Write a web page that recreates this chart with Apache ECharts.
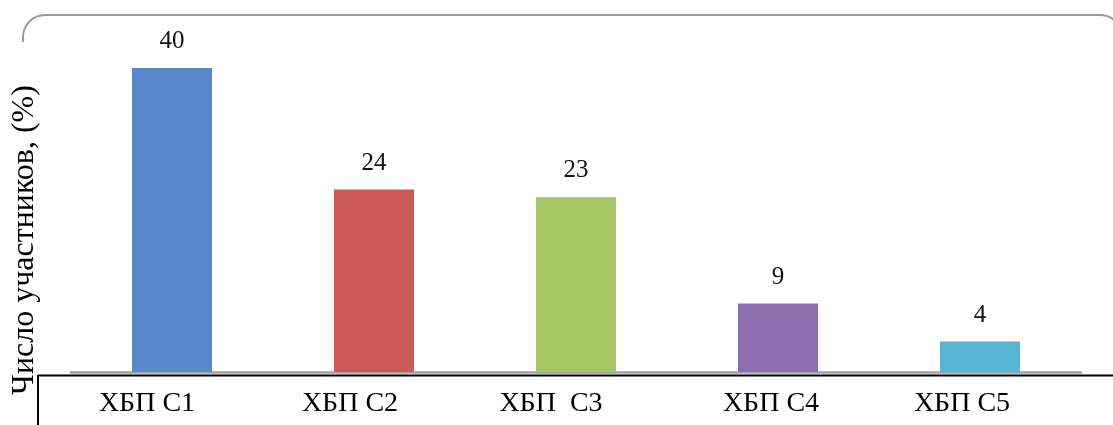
<!DOCTYPE html>
<html>
<head>
<meta charset="utf-8">
<script src="https://cdn.jsdelivr.net/npm/echarts@6/dist/echarts.min.js"></script>
<style>
  html, body { margin: 0; padding: 0; background: #fff; }
  #chart { width: 1113px; height: 425px; }
</style>
</head>
<body>
<div id="chart"></div>
<script>
// data
var categories = ['ХБП С1', 'ХБП С2', 'ХБП  С3', 'ХБП С4', 'ХБП С5'];
var values = [40, 24, 23, 9, 4];
var yName = 'Число участников, (%)';

var barColors = ['#5A8ACB', '#CB5A56', '#A6C663', '#8C6DAE', '#56B5D2'];
// labels in the original sit a little left of the bars
var labelShift = [50, 48, 50, 14, 36];

var chart = echarts.init(document.getElementById('chart'));

var rich = {};
labelShift.forEach(function (s, i) {
    rich['c' + i] = {
        fontFamily: 'Liberation Serif',
        fontSize: 28,
        color: '#000',
        padding: [0, s, 0, 0]
    };
});

chart.setOption({
    animation: false,
    textStyle: {
        fontFamily: 'Liberation Serif'
    },
    grid: {
        left: 71,
        right: 32,
        top: 68,
        bottom: 53,
        outerBoundsMode: 'none'
    },
    xAxis: {
        type: 'category',
        data: categories,
        axisLine: {
            lineStyle: {
                color: '#A3A3A3',
                width: 2.5
            }
        },
        axisTick: { show: false },
        axisLabel: {
            interval: 0,
            margin: 18,
            formatter: function (v, i) {
                return '{c' + i + '|' + v + '}';
            },
            rich: rich
        }
    },
    yAxis: {
        type: 'value',
        min: 0,
        max: 40,
        name: yName,
        nameLocation: 'middle',
        nameRotate: 90,
        nameGap: 30,
        nameTextStyle: {
            fontFamily: 'Liberation Serif',
            fontSize: 32,
            color: '#000',
            padding: [0, 40, 0, 0]
        },
        axisLine: { show: false },
        axisTick: { show: false },
        axisLabel: { show: false },
        splitLine: { show: false }
    },
    series: [
        {
            type: 'bar',
            barWidth: 80,
            data: values.map(function (v, i) {
                return { value: v, itemStyle: { color: barColors[i] } };
            }),
            label: {
                show: true,
                position: 'top',
                distance: 14,
                fontFamily: 'Liberation Serif',
                fontSize: 25,
                color: '#111'
            }
        }
    ],
    graphic: [
        // rounded frame at the top
        { type: 'arc', shape: { cx: 45, cy: 37, r: 22, startAngle: Math.PI, endAngle: Math.PI * 1.5 },
          style: { stroke: '#9A9A9A', lineWidth: 2, fill: null } },
        { type: 'line', shape: { x1: 23, y1: 37, x2: 23, y2: 42 },
          style: { stroke: '#9A9A9A', lineWidth: 2 } },
        { type: 'line', shape: { x1: 45, y1: 15, x2: 1100, y2: 15 },
          style: { stroke: '#9A9A9A', lineWidth: 2 } },
        { type: 'arc', shape: { cx: 1100, cy: 37, r: 22, startAngle: Math.PI * 1.5, endAngle: Math.PI * 2 },
          style: { stroke: '#9A9A9A', lineWidth: 2, fill: null } },
        // black table borders
        { type: 'line', shape: { x1: 38, y1: 375.5, x2: 1113, y2: 375.5 },
          style: { stroke: '#000', lineWidth: 2 } },
        { type: 'line', shape: { x1: 38, y1: 375, x2: 38, y2: 425 },
          style: { stroke: '#000', lineWidth: 2 } }
    ]
});
</script>
</body>
</html>
